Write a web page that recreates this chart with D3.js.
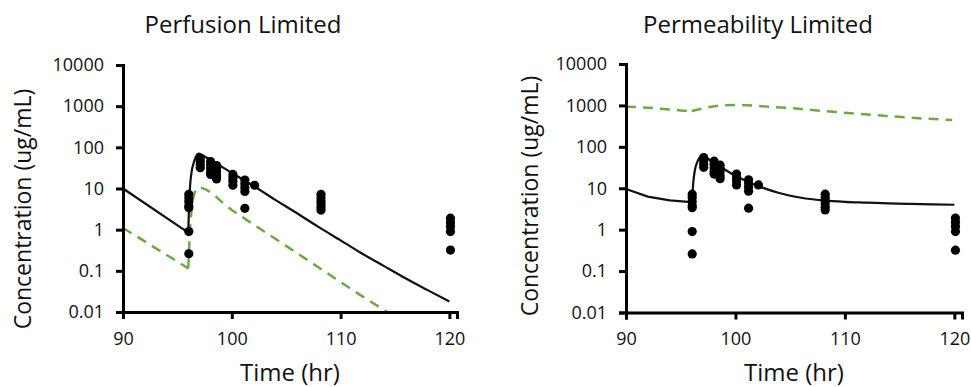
<!DOCTYPE html>
<html>
<head>
<meta charset="utf-8">
<script src="https://cdn.jsdelivr.net/npm/d3@7"></script>
<style>
  body { margin: 0; background: #fff; overflow: hidden; }
  svg { display: block; }
  svg text { font-family: "Open Sans", sans-serif; fill: #111; }
  .axis path, .axis line { stroke: #000; stroke-width: 3px; }
  .axis text { font-size: 18px; }
</style>
</head>
<body>
<svg id="chart" width="971" height="387"></svg>
<script>
// observed concentrations (same in both panels)
const obsTimes = [96.05, 97.1, 98.05, 98.6, 100.1, 101.2, 102.1, 108.2, 120.1];
const obsValues = [
  [7.2, 6, 4.8, 3.8, 3.4, 0.9, 0.26],
  [55, 46, 38, 32],
  [45, 38, 31, 25, 22],
  [36, 30, 25, 20, 17],
  [22, 18, 15, 12],
  [16, 13, 10.5, 8.5, 3.3],
  [12],
  [7.2, 6, 5, 4.2, 3.5, 3],
  [1.9, 1.5, 1.2, 0.9, 0.32]
];

const doseTime = 96;

// perfusion limited model
const perfTime  = [90, 96, 96.05, 96.15, 96.3, 96.5, 96.7, 96.95, 97.3, 98, 100, 102, 104, 106, 108, 110, 112, 114, 116, 118, 120];
const perfBlack = [10, 0.85, 2.5, 10, 25, 42, 60, 70, 64, 50, 24, 11.5, 5.3, 2.5, 1.15, 0.55, 0.26, 0.13, 0.065, 0.034, 0.018];
const perfGreenTime = [90, 96, 96.1, 96.3, 96.6, 96.95, 100, 104, 108, 112, 114.3];
const perfGreen     = [1.1, 0.115, 0.5, 3, 8, 10.5, 3.0, 0.6, 0.12, 0.024, 0.0095];

// permeability limited model
const permTime  = [90, 92, 94, 96, 96.05, 96.15, 96.3, 96.5, 96.7, 96.95, 97.3, 98, 100, 102, 104, 106, 108, 110, 112, 114, 116, 118, 120];
const permBlack = [9.6, 6.3, 5.1, 4.6, 6, 14, 28, 42, 54, 60, 55, 42, 20, 11.5, 7.7, 5.9, 5.1, 4.7, 4.5, 4.3, 4.2, 4.1, 4.0];
const permGreenTime = [90, 92, 94, 95.2, 96, 96.7, 98.3, 100, 102.9, 106, 109.2, 113.8, 116, 119.8];
const permGreen     = [935, 880, 800, 746, 730, 807, 970, 1025, 935, 820, 690, 556, 505, 445];

const yTicks = [0.01, 0.1, 1, 10, 100, 1000, 10000];
const yTickLabels = ["0.01", "0.1", "1", "10", "100", "1000", "10000"];
const xTicks = [90, 100, 110, 120];

const panels = [
  { title: "Perfusion Limited", left: 123, right: 457, top: 65, bottom: 312, titleX: 243, yLabX: 23, yLabY: 209,
    black: [perfTime, perfBlack], green: [perfGreenTime, perfGreen] },
  { title: "Permeability Limited", left: 626, right: 962, top: 64, bottom: 312.5, titleX: 758, yLabX: 530, yLabY: 196,
    black: [permTime, permBlack], green: [permGreenTime, permGreen] }
];

const svg = d3.select("#chart");
const green = "#70a844";

panels.forEach(p => {
  const x = d3.scaleLinear().domain([90, 120.7]).range([p.left, p.right]);
  const y = d3.scaleLog().domain([0.01, 10000]).range([p.bottom, p.top]);
  const g = svg.append("g");

  // pre-dose part is a straight decay, post-dose part is smooth
  function curvePath(times, vals) {
    const pts = d3.zip(times, vals).map(d => [d[0], Math.max(d[1], 0.01)]);
    const pre = pts.filter(d => d[0] <= doseTime);
    const post = pts.filter(d => d[0] >= doseTime);
    const lin = d3.line().x(d => x(d[0])).y(d => y(d[1]));
    const smooth = d3.line().x(d => x(d[0])).y(d => y(d[1])).curve(d3.curveMonotoneX);
    return lin(pre) + smooth(post);
  }

  // green dashed model curve
  g.append("path")
    .attr("d", curvePath(p.green[0], p.green[1]))
    .attr("fill", "none")
    .attr("stroke", green)
    .attr("stroke-width", 2.5)
    .attr("stroke-dasharray", "10,7");

  // black model curve
  g.append("path")
    .attr("d", curvePath(p.black[0], p.black[1]))
    .attr("fill", "none")
    .attr("stroke", "#111")
    .attr("stroke-width", 2.2);

  // observed points
  const pts = [];
  obsTimes.forEach((t, i) => obsValues[i].forEach(v => pts.push([t, v])));
  g.selectAll("circle").data(pts).enter().append("circle")
    .attr("cx", d => x(d[0]))
    .attr("cy", d => y(d[1]))
    .attr("r", 4.6)
    .attr("fill", "#000");

  // axes
  g.append("g")
    .attr("class", "axis")
    .attr("transform", "translate(" + p.left + ",0)")
    .call(d3.axisLeft(y).tickValues(yTicks).tickFormat((d, i) => yTickLabels[i]).tickSizeOuter(0).tickSize(7).tickPadding(12));
  g.append("g")
    .attr("class", "axis")
    .attr("transform", "translate(0," + p.bottom + ")")
    .call(d3.axisBottom(x).tickValues(xTicks).tickSizeOuter(0).tickSize(7).tickPadding(13));

  g.append("text")
    .attr("x", p.titleX).attr("y", 33)
    .attr("text-anchor", "middle")
    .style("font-size", "24px")
    .text(p.title);

  g.append("text")
    .attr("x", (p.left + p.right) / 2).attr("y", 381)
    .attr("text-anchor", "middle")
    .style("font-size", "24px")
    .text("Time (hr)");

  g.append("text")
    .attr("transform", "translate(" + p.yLabX + "," + p.yLabY + ") rotate(-90)")
    .attr("text-anchor", "middle")
    .attr("dy", "0.35em")
    .style("font-size", "23px")
    .text("Concentration (ug/mL)");
});
</script>
</body>
</html>
